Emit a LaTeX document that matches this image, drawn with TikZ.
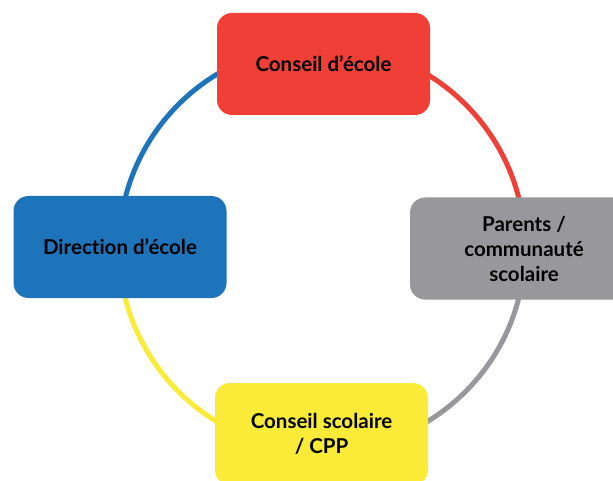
\documentclass[tikz,border=0pt]{standalone}
\usepackage{fontspec}
\setmainfont{Lato}[Ligatures=CommonOff]
\usepackage{tikz}
\usetikzlibrary{backgrounds}
\definecolor{boxred}{HTML}{F03F37}
\definecolor{boxblue}{HTML}{1E74BB}
\definecolor{boxgray}{HTML}{98979B}
\definecolor{boxyellow}{HTML}{F9EB37}
\tikzstyle{actor}=[rectangle,rounded corners=15pt,minimum width=213pt,minimum height=102pt,inner sep=0pt,align=center,font=\fontsize{20.5}{25}\selectfont\bfseries,text=black]
\tikzstyle{ring}=[line width=5pt]
\tikzset{every picture/.style={
    x=1pt,y=-1pt
  }
}

\begin{document}
\begin{tikzpicture}
      \useasboundingbox (0,0) rectangle (613,481);
      \coordinate (ctr) at (322,248);
      \draw[ring,draw=boxblue] ([shift={(180:203pt)}]ctr) arc[start angle=180,end angle=90,radius=203pt];
      \draw[ring,draw=boxred] ([shift={(90:203pt)}]ctr) arc[start angle=90,end angle=0,radius=203pt];
      \draw[ring,draw=boxgray] ([shift={(0:203pt)}]ctr) arc[start angle=0,end angle=-90,radius=203pt];
      \draw[ring,draw=boxyellow] ([shift={(-90:203pt)}]ctr) arc[start angle=-90,end angle=-180,radius=203pt];
      \node[actor,fill=boxred] at (323.5,64) (conseil) {Conseil d’école};
      \node[actor,fill=boxgray,minimum width=228pt] at (524,248.5) (parents) {Parents /\\communauté\\scolaire};
      \node[actor,fill=boxblue] at (120,247) (direction) {Direction d’école};
      \node[actor,fill=boxyellow] at (321.5,434) (cscolaire) {Conseil scolaire\\/ CPP};
    \end{tikzpicture}
\end{document}
